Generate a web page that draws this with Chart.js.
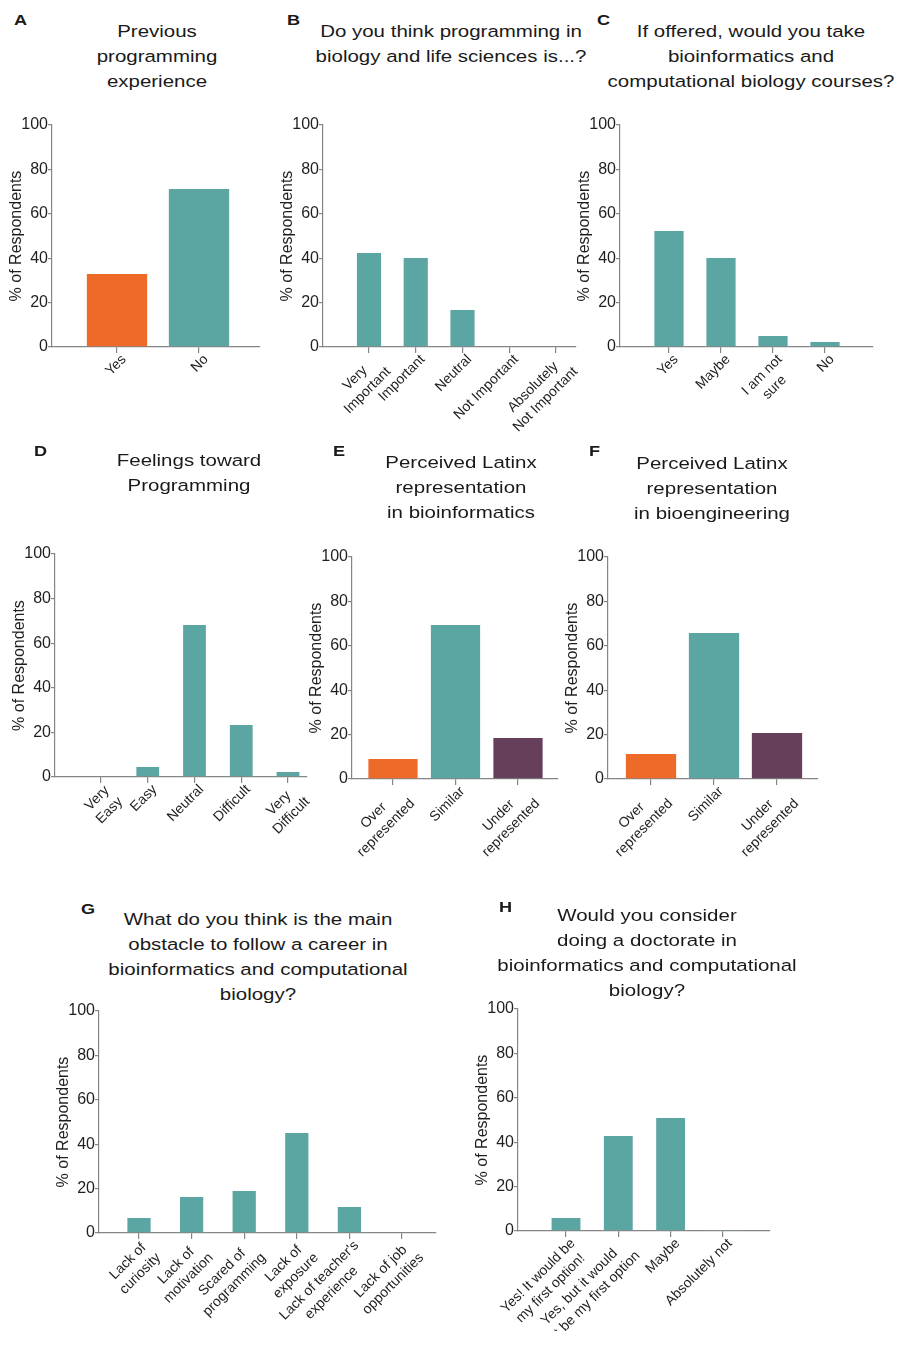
<!DOCTYPE html>
<html lang="en">
<head>
<meta charset="UTF-8">
<title>Survey results</title>
<script src="https://cdn.jsdelivr.net/npm/chart.js"></script>
<style>
  body { margin: 0; background: #fff; }
  #page { position: relative; width: 897px; height: 1345px; overflow: hidden;
          font-family: "Liberation Sans", Arial, sans-serif; color: #1a1a1a; }
  .letter { position: absolute; font-weight: bold; font-size: 14.5px; line-height: 14.5px;
            transform: scaleX(1.25); transform-origin: left top; }
  .title { position: absolute; width: 400px; text-align: center; font-size: 16.8px;
           line-height: 25px; transform: scaleX(1.22); transform-origin: center top; }
  canvas { position: absolute; }
</style>
</head>
<body>
<div id="page"></div>
<script>
// ---- data ----
const expLabels = ['Yes', 'No'];
const expValues = [33.3, 71.6];

const importanceLabels = [['Very', 'Important'], 'Important', 'Neutral', 'Not Important', ['Absolutely', 'Not Important']];
const importanceValues = [42.8, 40.5, 17.1, 0, 0];

const coursesLabels = ['Yes', 'Maybe', ['I am not', 'sure'], 'No'];
const coursesValues = [52.7, 40.5, 5.4, 2.7];

const feelingsLabels = [['Very', 'Easy'], 'Easy', 'Neutral', 'Difficult', ['Very', 'Difficult']];
const feelingsValues = [0, 4.9, 68.6, 23.8, 2.7];

const reprLabels = [['Over', 'represented'], 'Similar', ['Under', 'represented']];
const bioinfValues = [9.5, 69.8, 18.9];
const bioengValues = [11.7, 66.2, 21.2];

const obstacleLabels = [['Lack of', 'curiosity'], ['Lack of', 'motivation'], ['Scared of', 'programming'],
                        ['Lack of', 'exposure'], ["Lack of teacher's", 'experience'], ['Lack of job', 'opportunities']];
const obstacleValues = [7.2, 16.7, 19.4, 45.5, 12.2, 0];

const doctorateLabels = [['Yes! It would be', 'my first option!'], ['Yes, but it would', 'not be my first option'], 'Maybe', 'Absolutely not'];
const doctorateValues = [6.3, 43.2, 51.4, 0.4];

const yTicks = [0, 20, 40, 60, 80, 100];

// ---- colours / fonts ----
const TEAL = '#5ba6a3', ORANGE = '#ee6a28', PLUM = '#663f5b';
const AXIS = '#858585', TEXT = '#1f1f1f';
const FONT = "'Liberation Sans', Arial, sans-serif";

// ---- panels: axis placement (px) and looks ----
const panels = [
  { letter: 'A', lx: 14, lb: 25, title: ['Previous', 'programming', 'experience'], tx: 157, tt: 18.5,
    labels: expLabels, values: expValues, colors: [ORANGE, TEAL],
    ax: 52, top: 125, bot: 347, end: 260, first: 117, step: 82, bar: 0.76 },
  { letter: 'B', lx: 287, lb: 25, title: ['Do you think programming in', 'biology and life sciences is...?'], tx: 451, tt: 18.5,
    labels: importanceLabels, values: importanceValues, colors: TEAL,
    ax: 323, top: 125, bot: 347, end: 576, first: 369, step: 46.75, bar: 0.56 },
  { letter: 'C', lx: 597, lb: 25, title: ['If offered, would you take', 'bioinformatics and', 'computational biology courses?'], tx: 751, tt: 18.5,
    labels: coursesLabels, values: coursesValues, colors: TEAL,
    ax: 620, top: 125, bot: 347, end: 873, first: 669, step: 52, bar: 0.6 },
  { letter: 'D', lx: 34, lb: 456, title: ['Feelings toward', 'Programming'], tx: 189, tt: 448.4,
    labels: feelingsLabels, values: feelingsValues, colors: TEAL,
    ax: 55, top: 554, bot: 777, end: 307, first: 101, step: 46.75, bar: 0.53 },
  { letter: 'E', lx: 333, lb: 456, title: ['Perceived Latinx', 'representation', 'in bioinformatics'], tx: 461, tt: 450.4,
    labels: reprLabels, values: bioinfValues, colors: [ORANGE, TEAL, PLUM],
    ax: 352, top: 557, bot: 779, end: 558, first: 393, step: 62.5, bar: 0.82 },
  { letter: 'F', lx: 589, lb: 456, title: ['Perceived Latinx', 'representation', 'in bioengineering'], tx: 712, tt: 451.4,
    labels: reprLabels, values: bioengValues, colors: [ORANGE, TEAL, PLUM],
    ax: 608, top: 557, bot: 779, end: 818, first: 651, step: 63, bar: 0.83 },
  { letter: 'G', lx: 81, lb: 914, title: ['What do you think is the main', 'obstacle to follow a career in', 'bioinformatics and computational', 'biology?'], tx: 258, tt: 906.7,
    labels: obstacleLabels, values: obstacleValues, colors: TEAL,
    ax: 99, top: 1011, bot: 1233, end: 436, first: 139, step: 52.6, bar: 0.48 },
  { letter: 'H', lx: 499, lb: 912, title: ['Would you consider', 'doing a doctorate in', 'bioinformatics and computational', 'biology?'], tx: 647, tt: 903.4,
    labels: doctorateLabels, values: doctorateValues, colors: TEAL,
    ax: 518, top: 1009, bot: 1231, end: 770, first: 566, step: 52.3, bar: 0.59 }
];

const Y_W = 45, X_H = 100, PAD_T = 12, PAD_R = 16, TICK = 6;

// category labels: rotated 45deg, lines centred on each other, block ending at the tick
const slantedLabels = {
  id: 'slantedLabels',
  afterDraw(chart, args, opts) {
    const { ctx } = chart;
    const x = chart.scales.x;
    ctx.save();
    ctx.font = '14px ' + FONT;
    ctx.fillStyle = TEXT;
    ctx.textAlign = 'center';
    ctx.textBaseline = 'middle';
    opts.labels.forEach((lab, i) => {
      const lines = [].concat(lab);
      const wmax = Math.max(...lines.map(l => ctx.measureText(l).width));
      ctx.save();
      ctx.translate(x.getPixelForValue(i), x.top + TICK);
      ctx.rotate(-Math.PI / 4);
      lines.forEach((l, k) => ctx.fillText(l, -wmax / 2 + 2, 8 + k * 17.5));
      ctx.restore();
    });
    ctx.restore();
  }
};

const page = document.getElementById('page');

panels.forEach(p => {
  // letter and title as plain text
  const L = document.createElement('div');
  L.className = 'letter';
  L.textContent = p.letter;
  L.style.left = p.lx + 'px';
  L.style.top = (p.lb - 12.3) + 'px';
  page.appendChild(L);

  const T = document.createElement('div');
  T.className = 'title';
  T.innerHTML = p.title.join('<br>');
  T.style.left = (p.tx - 200) + 'px';
  T.style.top = p.tt + 'px';
  page.appendChild(T);

  // canvas sized so the chart area lands on the measured axes
  const left = p.ax - Y_W, top = p.top - PAD_T;
  const w = p.end + PAD_R - left, h = p.bot - top + X_H;
  const cv = document.createElement('canvas');
  cv.width = w; cv.height = h;
  cv.style.left = left + 'px'; cv.style.top = top + 'px';
  cv.style.width = w + 'px'; cv.style.height = h + 'px';
  page.appendChild(cv);

  new Chart(cv.getContext('2d'), {
    type: 'bar',
    data: {
      datasets: [{
        data: p.values.map((v, i) => ({ x: i, y: v })),
        backgroundColor: p.colors,
        borderColor: 'rgba(255,255,255,0.45)',
        borderWidth: 1,
        barPercentage: p.bar,
        categoryPercentage: 1
      }]
    },
    plugins: [slantedLabels],
    options: {
      responsive: false,
      devicePixelRatio: 1,
      animation: false,
      layout: { padding: { top: PAD_T, right: PAD_R, left: 0, bottom: 0 } },
      plugins: {
        legend: { display: false },
        tooltip: { enabled: false },
        slantedLabels: { labels: p.labels }
      },
      scales: {
        x: {
          type: 'linear',
          offset: false,
          min: (p.ax - p.first) / p.step,
          max: (p.end - p.first) / p.step,
          afterBuildTicks: s => { s.ticks = p.labels.map((_, i) => ({ value: i })); },
          afterFit: s => { s.height = X_H; },
          border: { display: true, color: AXIS, width: 1.2 },
          grid: { offset: false, drawOnChartArea: false, drawTicks: true, tickLength: TICK, color: AXIS, lineWidth: 1.2 },
          ticks: { display: false }
        },
        y: {
          min: 0, max: 100,
          afterBuildTicks: s => { s.ticks = yTicks.map(v => ({ value: v })); },
          afterFit: s => { s.width = Y_W; },
          border: { display: true, color: AXIS, width: 1.2 },
          grid: { drawOnChartArea: false, drawTicks: true, tickLength: 4, color: AXIS, lineWidth: 1.2 },
          ticks: { padding: 0, color: TEXT, font: { family: FONT, size: 16 } },
          title: {
            display: true, text: '% of Respondents', color: TEXT, padding: 0,
            font: { family: FONT, size: 16 }
          }
        }
      }
    }
  });
});
</script>
</body>
</html>
